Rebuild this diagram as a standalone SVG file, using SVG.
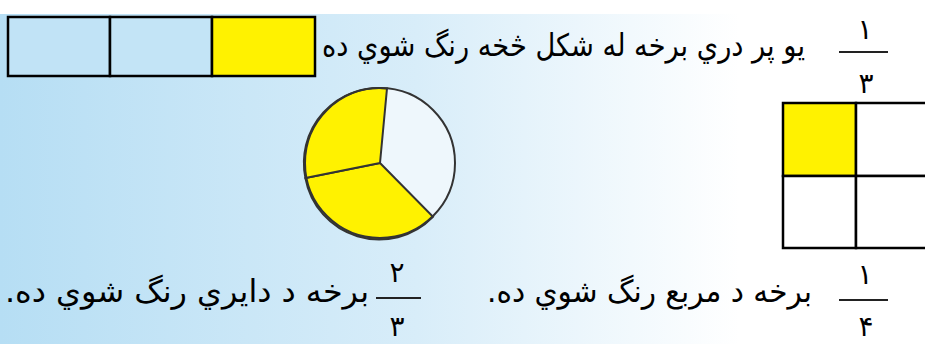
<svg xmlns="http://www.w3.org/2000/svg" width="925" height="344" viewBox="0 0 925 344">
<defs>
<linearGradient id="bg" x1="0" y1="0" x2="1" y2="0">
<stop offset="0" stop-color="#b6def4"/>
<stop offset="0.45" stop-color="#d8edf9"/>
<stop offset="0.8" stop-color="#ffffff"/>
<stop offset="1" stop-color="#ffffff"/>
</linearGradient>
</defs>
<style>
.t{font-family:"DejaVu Sans","Noto Sans",sans-serif;font-size:31px;fill:#000}
.d{font-family:"DejaVu Sans","Noto Sans",sans-serif;font-size:28px;fill:#000;text-anchor:middle}
.cell{stroke:#000;stroke-width:2.5}
.fl{stroke:#222;stroke-width:2}
</style>
<rect x="0" y="0" width="925" height="344" fill="#fff"/>
<rect x="0" y="14" width="925" height="330" fill="url(#bg)"/>

<g id="strip">
<rect class="cell" x="8" y="17" width="102" height="59" fill="#c1e3f6"/>
<rect class="cell" x="110" y="17" width="102" height="59" fill="#c3e4f6"/>
<rect class="cell" x="212" y="17" width="103" height="59" fill="#fff200"/>
</g>

<g id="text-top">
<text class="t" x="805" y="56" direction="rtl" textLength="483" lengthAdjust="spacingAndGlyphs">يو پر دري برخه له شکل څخه رنگ شوي ده</text>
</g>
<g id="frac-top">
<text class="d" x="865" y="39">١</text>
<line class="fl" x1="839" y1="52" x2="888" y2="52"/>
<text class="d" x="866" y="93">٣</text>
</g>

<g id="circle">
<path d="M380,163 L387,88.4 A75,75 0 0 1 433,216.8 Z" fill="#eef7fc"/>
<path d="M380,163 L433,216.8 A75,75 0 0 1 305.4,178 Z" fill="#fff200" stroke="#333" stroke-width="2"/>
<path d="M380,163 L305.4,178 A75,75 0 0 1 387,88.4 Z" fill="#fff200" stroke="#333" stroke-width="2"/>
<circle cx="380" cy="163" r="75" fill="none" stroke="#333" stroke-width="2"/>
</g>

<g id="grid">
<rect class="cell" x="783" y="103" width="73" height="73" fill="#fff200"/>
<rect class="cell" x="856" y="103" width="73" height="73" fill="#fff"/>
<rect class="cell" x="783" y="176" width="73" height="72" fill="#fff"/>
<rect class="cell" x="856" y="176" width="73" height="72" fill="#fff"/>
</g>

<g id="text-bottom-left">
<text class="t" x="369" y="302" direction="rtl" textLength="364" lengthAdjust="spacingAndGlyphs">برخه د دايري رنگ شوي ده.</text>
</g>
<g id="frac-bottom-left">
<text class="d" x="397" y="282">٢</text>
<line class="fl" x1="376" y1="298" x2="421" y2="298"/>
<text class="d" x="397" y="336">٣</text>
</g>

<g id="text-bottom-right">
<text class="t" x="812" y="302" direction="rtl" textLength="325" lengthAdjust="spacingAndGlyphs">برخه د مربع رنگ شوي ده.</text>
</g>
<g id="frac-bottom-right">
<text class="d" x="865" y="284">١</text>
<line class="fl" x1="839" y1="300" x2="888" y2="300"/>
<text class="d" x="866" y="336">۴</text>
</g>
</svg>
